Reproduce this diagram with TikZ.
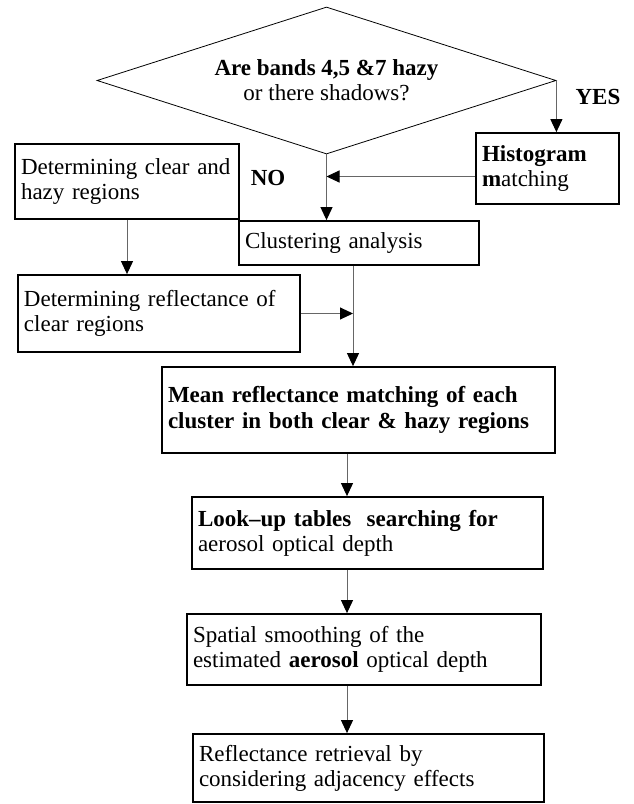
\documentclass[tikz,border=0pt]{standalone}
\usepackage{fontspec}
\setmainfont{Liberation Serif}
\usetikzlibrary{arrows.meta,shapes.geometric}
\tikzstyle{stepbox}=[draw, line width=0.9pt, align=left, inner xsep=3pt, inner ysep=0pt]
\tikzstyle{decision}=[diamond, draw, line width=0.4pt, aspect=3, inner sep=0pt, align=center, minimum width=229.5pt, minimum height=73.5pt]
\tikzstyle{flow}=[black!60, line width=0.5pt, -{Triangle[length=6.5pt,width=6pt,color=black]}]

\begin{document}
\begin{tikzpicture}[x=0.5pt, y=-0.5pt, font=\fontsize{11.5}{12.6}\selectfont]

    \useasboundingbox (0,0) rectangle (633,804);

    \node[decision] (q) at (326.5,80.5) {\textbf{Are bands 4,5 \&7 hazy}\\or there shadows?};
    \node (yes) at (598,97) {\textbf{YES}};
    \node (no) at (268,178) {\textbf{NO}};

    \node[stepbox, text width=65.5pt, minimum height=35.5pt] (hist) at (547.5,168.5) {\textbf{Histogram}\\\textbf{m}atching};
    \node[stepbox, text width=106pt, minimum height=37.5pt] (dclear) at (127,181.5) {Determining clear and\\hazy regions};
    \node[stepbox, text width=114pt, minimum height=22pt] (clus) at (359,243) {Clustering analysis};
    \node[stepbox, text width=135pt, minimum height=38.5pt] (drefl) at (159,313.5) {Determining reflectance of\\clear regions};
    \node[stepbox, text width=190.5pt, minimum height=43pt] (mean) at (358.5,410) {\textbf{Mean reflectance matching of each}\\\textbf{cluster in both clear \& hazy regions}};
    \node[stepbox, text width=169.5pt, minimum height=36pt] (lookup) at (367.5,533) {\textbf{Look–up tables~ searching for}\\aerosol optical depth};
    \node[stepbox, text width=171pt, minimum height=35.5pt] (smooth) at (364,649.5) {Spatial smoothing of the\\estimated \textbf{aerosol} optical depth};
    \node[stepbox, text width=169.5pt, minimum height=34pt] (retr) at (368.5,768) {Reflectance retrieval by\\considering adjacency effects};

    \coordinate (hmid) at ([yshift=-4pt]hist.west);
    \coordinate (trunk) at (353,300);
    \coordinate (spine) at (347,600);

    \draw[flow] (q.east) to (q.east |- hist.north);
    \draw[flow] (q.south) to (q.south |- clus.north);
    \draw[flow] (hmid) to (hmid -| q.south);
    \draw[flow] (dclear.south) to (dclear.south |- drefl.north);
    \draw[flow] (trunk |- clus.south) to (trunk |- mean.north);
    \draw[flow] (drefl.east) to (drefl.east -| trunk);

    \foreach \a/\b in {mean/lookup, lookup/smooth, smooth/retr}
        \draw[flow] (spine |- \a.south) to (spine |- \b.north);

\end{tikzpicture}
\end{document}
